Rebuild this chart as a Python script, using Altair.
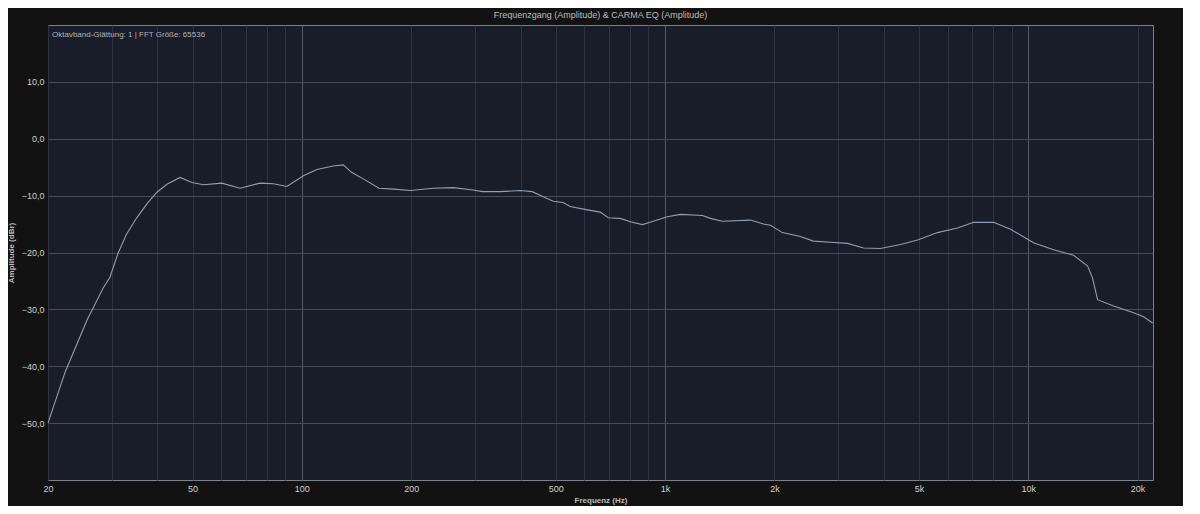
import altair as alt
import pandas as pd

# Frequency response
freqs = [20, 22.3, 25.6, 28.4, 29.6, 31.2, 32.9, 35.1, 37.4, 39.9,
         42.5, 46.2, 49.8, 53.6, 60.2, 67.6, 76.7, 83.5, 90.9, 101,
         110, 122, 130, 137, 148, 163, 179, 199, 230, 261,
         296, 314, 352, 399, 431, 462, 492, 524, 548, 611,
         663, 698, 753, 802, 866, 928, 1014, 1102, 1267, 1333,
         1438, 1718, 1866, 1950, 2104, 2358, 2561, 2854, 3178, 3518,
         3918, 4449, 4955, 5624, 6386, 7068, 8025, 8937, 10340, 11738,
         13328, 14572, 15032, 15516, 17178, 19500, 20774, 21994]
db = [-50, -41, -31.9, -26.2, -24.4, -20.1, -16.8, -13.9, -11.5, -9.4,
      -8.0, -6.8, -7.7, -8.1, -7.8, -8.7, -7.8, -7.9, -8.4, -6.5,
      -5.4, -4.8, -4.6, -5.9, -7.1, -8.7, -8.85, -9.1, -8.7, -8.6,
      -9.0, -9.3, -9.3, -9.1, -9.3, -10.2, -11.0, -11.2, -11.9, -12.5,
      -12.9, -13.9, -14.0, -14.6, -15.1, -14.5, -13.7, -13.3, -13.5, -14.0,
      -14.5, -14.3, -15.0, -15.2, -16.5, -17.2, -18.0, -18.2, -18.4, -19.2,
      -19.3, -18.6, -17.8, -16.5, -15.7, -14.7, -14.7, -15.9, -18.3, -19.5,
      -20.5, -22.4, -24.5, -28.3, -29.4, -30.6, -31.3, -32.4]

x_grid = [20, 30, 40, 50, 60, 70, 80, 90,
          100, 200, 300, 400, 500, 600, 700, 800, 900,
          1000, 2000, 3000, 4000, 5000, 6000, 7000, 8000, 9000,
          10000, 20000]
x_labels = [20, 50, 100, 200, 500, 1000, 2000, 5000, 10000, 20000]
x_major = [100, 1000, 10000]
y_ticks = [-50, -40, -30, -20, -10, 0, 10]

title_text = "Frequenzgang (Amplitude) & CARMA EQ (Amplitude)"
note_text = "Oktavband-Glättung: 1 | FFT Größe: 65536"

df = pd.DataFrame({"f": freqs, "db": db})

label_list = "[" + ",".join(str(v) for v in x_labels) + "]"
major_list = "[" + ",".join(str(v) for v in x_major) + "]"

x_axis = alt.Axis(
    values=x_grid,
    labelExpr=f"indexof({label_list}, datum.value) >= 0 ? (datum.value >= 1000 ? (datum.value/1000) + 'k' : datum.value + '') : ''",
    title="Frequenz (Hz)",
    grid=True,
    gridColor={"condition": {"test": f"indexof({major_list}, datum.value) >= 0", "value": "#555b66"},
               "value": "#2c323f"},
    gridWidth=1,
    ticks=False,
    domain=False,
    labelPadding=4,
    titlePadding=3,
    labelFlush=False,
)
y_axis = alt.Axis(
    values=y_ticks,
    labelExpr="replace(format(datum.value, '.1f'), '.', ',')",
    title="Amplitude (dBr)",
    grid=True,
    gridColor="#464c58",
    ticks=False,
    domain=False,
    labelPadding=4,
    titlePadding=6,
)

line = alt.Chart(df).mark_line(color="#939eb2", strokeWidth=1.1).encode(
    x=alt.X("f:Q", scale=alt.Scale(type="log", domain=[20, 22050], nice=False), axis=x_axis),
    y=alt.Y("db:Q", scale=alt.Scale(domain=[-60, 20], nice=False), axis=y_axis),
)

note = alt.Chart(pd.DataFrame({"t": [note_text]})).mark_text(
    align="left", baseline="middle", fontSize=8, color="#b4b4b4", font="Liberation Sans"
).encode(x=alt.value(4), y=alt.value(10), text="t:N")

chart = alt.layer(line, note).properties(
    width=1105,
    height=455,
    title=alt.TitleParams(title_text, fontSize=9, color="#bdbdbd", font="Liberation Sans",
                          fontWeight="normal", offset=5),
    background="#121212",
    padding={"left": 40, "top": 17, "right": 30, "bottom": 26},
    autosize=alt.AutoSizeParams(type="none"),
).configure_view(
    fill="#181d29", stroke="#7d8188", strokeWidth=1
).configure_axis(
    labelFont="Liberation Sans", labelFontSize=9, labelColor="#cfcfcf",
    titleFont="Liberation Sans", titleFontSize=8, titleColor="#bdbdbd", titleFontWeight="bold",
)

chart.save("out.html", embed_options={"renderer": "svg", "actions": False})
